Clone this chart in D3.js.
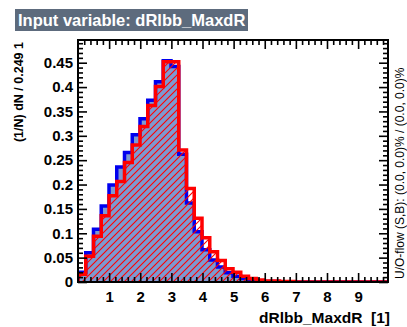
<!DOCTYPE html>
<html>
<head>
<meta charset="utf-8">
<script src="https://cdn.jsdelivr.net/npm/d3@7"></script>
<style>
  html, body { margin: 0; padding: 0; background: #fff; }
  svg { display: block; }
  text { font-family: "Liberation Sans", Arial, Helvetica, sans-serif; }
</style>
</head>
<body>
<svg id="chart" width="407" height="327"></svg>
<script>
// Histogram binning of dRlbb_MaxdR
const binWidth = 0.249;
const xMin = 0;
const nBins = 40;

// Normalised signal entries per bin, (1/N) dN / 0.249
const signalValues = [
  0.020, 0.060, 0.108, 0.156, 0.199, 0.236, 0.266, 0.302, 0.335, 0.373,
  0.411, 0.454, 0.442, 0.262, 0.162, 0.103, 0.066, 0.045, 0.031, 0.019,
  0.012, 0.007, 0.004, 0.002, 0.001, 0.001, 0, 0, 0, 0,
  0, 0, 0, 0, 0, 0, 0, 0, 0, 0
];

// Normalised background entries per bin
const backgroundValues = [
  0.016, 0.053, 0.094, 0.136, 0.177, 0.206, 0.245, 0.281, 0.319, 0.362,
  0.401, 0.452, 0.452, 0.271, 0.192, 0.131, 0.091, 0.062, 0.044, 0.027,
  0.020, 0.012, 0.007, 0.004, 0.002, 0.002, 0.001, 0.001, 0, 0,
  0, 0, 0, 0, 0, 0, 0, 0, 0, 0
];

const yMax = 0.4966;
const xTickValues = [1, 2, 3, 4, 5, 6, 7, 8, 9];
const xTickLabels = ["1", "2", "3", "4", "5", "6", "7", "8", "9"];
const yTickValues = [0, 0.05, 0.1, 0.15, 0.2, 0.25, 0.3, 0.35, 0.4, 0.45];
const yTickLabels = ["0", "0.05", "0.1", "0.15", "0.2", "0.25", "0.3", "0.35", "0.4", "0.45"];

const titleText = "Input variable: dRlbb_MaxdR";
const xTitle = "dRlbb_MaxdR  [1]";
const yTitle = "(1/N) dN / 0.249 1";
const flowText = "U/O-flow (S,B): (0.0, 0.0)% / (0.0, 0.0)%";

// Frame geometry
const frame = { left: 78, right: 388, top: 40, bottom: 282 };
const xMax = xMin + nBins * binWidth;

const svg = d3.select("#chart");
svg.append("rect").attr("width", 407).attr("height", 327).attr("fill", "#fff");

const x = d3.scaleLinear().domain([xMin, xMax]).range([frame.left, frame.right]);
const y = d3.scaleLinear().domain([0, yMax]).range([frame.bottom, frame.top]);

const defs = svg.append("defs");
defs.append("clipPath").attr("id", "plotClip")
  .append("rect")
  .attr("x", frame.left).attr("y", frame.top)
  .attr("width", frame.right - frame.left).attr("height", frame.bottom - frame.top);

// Diagonal red hatching for the background histogram
const hs = 7;
const hatch = defs.append("pattern")
  .attr("id", "bkgHatch")
  .attr("patternUnits", "userSpaceOnUse")
  .attr("width", hs).attr("height", hs);
hatch.append("path")
  .attr("d", `M0,${hs} L${hs},0 M${-hs/2},${hs/2} L${hs/2},${-hs/2} M${hs/2},${hs*1.5} L${hs*1.5},${hs/2}`)
  .attr("stroke", "#ff0000").attr("stroke-width", 1.1).attr("fill", "none");

// Step outline of a histogram, closed along the baseline
function stepPoints(values) {
  const pts = [[xMin, 0]];
  values.forEach((v, i) => {
    pts.push([xMin + i * binWidth, v]);
    pts.push([xMin + (i + 1) * binWidth, v]);
  });
  pts.push([xMax, 0]);
  return pts;
}
const stepLine = d3.line().x(d => x(d[0])).y(d => y(d[1]));

const plot = svg.append("g").attr("clip-path", "url(#plotClip)");

plot.append("path")
  .attr("d", stepLine(stepPoints(signalValues)))
  .attr("fill", "#7d99d1")
  .attr("stroke", "#0000ee")
  .attr("stroke-width", 3.5)
  .attr("stroke-linejoin", "miter");

plot.append("path")
  .attr("d", stepLine(stepPoints(backgroundValues)))
  .attr("fill", "url(#bkgHatch)")
  .attr("stroke", "#ff0000")
  .attr("stroke-width", 3.5)
  .attr("stroke-linejoin", "miter");

// Axes with inward ticks on all four sides
const xMinor = d3.range(0, 50).map(i => xMin + i * 0.2).filter(v => v <= xMax && Math.abs(v - Math.round(v)) > 1e-6);
const yMinor = d3.range(0, 50).map(i => i * 0.01).filter(v => v <= yMax && Math.abs(v * 20 - Math.round(v * 20)) > 1e-6);
const majorLen = 9, minorLen = 5;

function styleAxis(g) {
  g.select(".domain").remove();
  g.selectAll(".tick line").attr("stroke", "#000").attr("stroke-width", 1.6);
  g.selectAll(".tick text")
    .attr("fill", "#000")
    .style("font-family", "'Liberation Sans', Arial, Helvetica, sans-serif")
    .style("font-weight", "bold")
    .style("font-size", "15px");
}

// bottom
svg.append("g").attr("transform", `translate(0,${frame.bottom})`)
  .call(d3.axisBottom(x).tickValues(xTickValues).tickSize(-majorLen).tickPadding(9)
    .tickFormat((d, i) => xTickLabels[i]))
  .call(styleAxis);
svg.append("g").attr("transform", `translate(0,${frame.bottom})`)
  .call(d3.axisBottom(x).tickValues(xMinor).tickSize(-minorLen).tickFormat(""))
  .call(styleAxis);
// top
svg.append("g").attr("transform", `translate(0,${frame.top})`)
  .call(d3.axisTop(x).tickValues(xTickValues).tickSize(-majorLen).tickFormat(""))
  .call(styleAxis);
svg.append("g").attr("transform", `translate(0,${frame.top})`)
  .call(d3.axisTop(x).tickValues(xMinor).tickSize(-minorLen).tickFormat(""))
  .call(styleAxis);
// left
svg.append("g").attr("transform", `translate(${frame.left},0)`)
  .call(d3.axisLeft(y).tickValues(yTickValues).tickSize(-majorLen).tickPadding(5)
    .tickFormat((d, i) => yTickLabels[i]))
  .call(styleAxis);
svg.append("g").attr("transform", `translate(${frame.left},0)`)
  .call(d3.axisLeft(y).tickValues(yMinor).tickSize(-minorLen).tickFormat(""))
  .call(styleAxis);
// right
svg.append("g").attr("transform", `translate(${frame.right},0)`)
  .call(d3.axisRight(y).tickValues(yTickValues).tickSize(-majorLen).tickFormat(""))
  .call(styleAxis);
svg.append("g").attr("transform", `translate(${frame.right},0)`)
  .call(d3.axisRight(y).tickValues(yMinor).tickSize(-minorLen).tickFormat(""))
  .call(styleAxis);

// Frame
svg.append("rect")
  .attr("x", frame.left).attr("y", frame.top)
  .attr("width", frame.right - frame.left).attr("height", frame.bottom - frame.top)
  .attr("fill", "none").attr("stroke", "#000").attr("stroke-width", 2);

// Title box
svg.append("rect")
  .attr("x", 15).attr("y", 9).attr("width", 233).attr("height", 22)
  .attr("fill", "#5d6b7d");
svg.append("text")
  .attr("x", 18).attr("y", 26)
  .attr("fill", "#fff")
  .style("font-weight", "bold").style("font-size", "16.5px")
  .text(titleText);

// Axis titles
svg.append("text")
  .attr("x", 390).attr("y", 323)
  .attr("text-anchor", "end")
  .style("white-space", "pre")
  .style("font-weight", "bold").style("font-size", "15.5px")
  .text(xTitle);

svg.append("text")
  .attr("transform", "translate(23,42) rotate(-90)")
  .attr("text-anchor", "end")
  .style("font-weight", "bold").style("font-size", "12.5px")
  .text(yTitle);

// Under/overflow note
svg.append("text")
  .attr("transform", "translate(403.5,279) rotate(-90)")
  .attr("text-anchor", "start")
  .style("font-size", "12px")
  .text(flowText);
</script>
</body>
</html>
